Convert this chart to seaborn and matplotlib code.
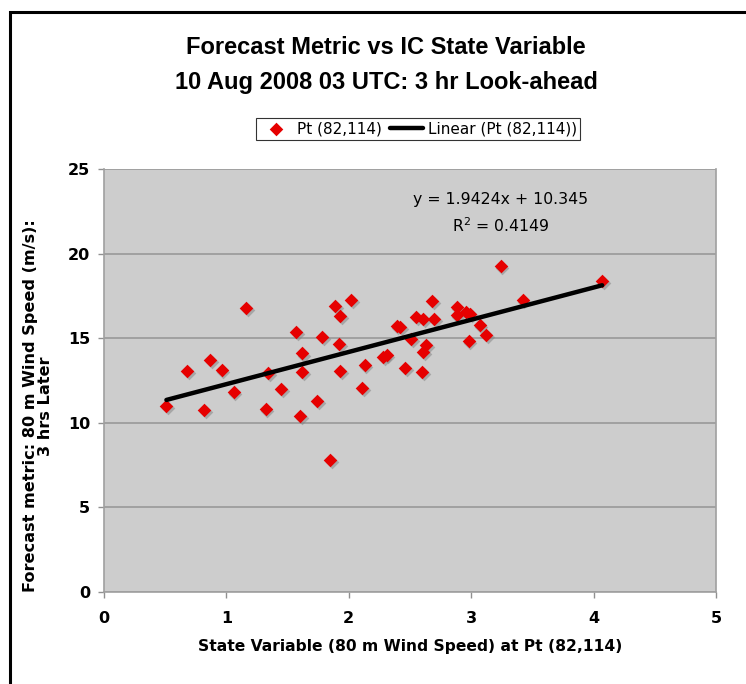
import seaborn as sns
import matplotlib.pyplot as plt
import matplotlib.transforms as mtransforms
from matplotlib.patches import Rectangle
import pandas as pd

# values
state_var = [0.51, 0.68, 0.82, 0.87, 0.96, 1.06, 1.16, 1.32, 1.34, 1.45,
             1.57, 1.62, 1.62, 1.60, 1.74, 1.78, 1.85, 1.89, 1.93, 1.92,
             1.93, 2.02, 2.11, 2.13, 2.28, 2.31, 2.39, 2.42, 2.46, 2.51,
             2.55, 2.61, 2.60, 2.61, 2.63, 2.68, 2.70, 2.88, 2.88, 2.96,
             2.99, 2.98, 3.07, 3.12, 3.24, 3.42, 4.07]
forecast = [11.0, 13.06, 10.76, 13.71, 13.12, 11.82, 16.8, 10.83, 12.96, 11.98,
            15.38, 14.1, 13.0, 10.4, 11.3, 15.09, 7.8, 16.9, 16.3, 14.66,
            13.08, 17.26, 12.04, 13.4, 13.87, 14.0, 15.74, 15.64, 13.22, 14.95,
            16.27, 16.12, 12.98, 14.2, 14.6, 17.22, 16.12, 16.86, 16.37, 16.57,
            16.43, 14.85, 15.8, 15.2, 19.26, 17.28, 18.4]
x_ticks = [0, 1, 2, 3, 4, 5]
y_ticks = [0, 5, 10, 15, 20, 25]

df = pd.DataFrame({"state": state_var, "forecast": forecast})

sns.set_style("white")
plt.rcParams['font.family'] = ['DejaVu Sans']
plt.rcParams['text.color'] = 'black'
plt.rcParams['axes.labelcolor'] = 'black'
plt.rcParams['xtick.color'] = 'black'
plt.rcParams['ytick.color'] = 'black'

fig = plt.figure(figsize=(7.46, 6.84), dpi=100)
ax = fig.add_axes([104 / 746, 1 - 592 / 684, 612 / 746, 423 / 684])
ax.set_facecolor("#cdcdcd")

# faint marker shadow like the spreadsheet original
shadow = mtransforms.offset_copy(ax.transData, fig=fig, x=1.2, y=-1.5, units="points")
sns.scatterplot(data=df, x="state", y="forecast", marker="D", s=48, color="#808080",
                alpha=0.5, linewidth=0, ax=ax, transform=shadow, zorder=2)
sns.scatterplot(data=df, x="state", y="forecast", marker="D", s=48, color="#e60000",
                linewidth=0, ax=ax, label="Pt (82,114)", zorder=3)
sns.regplot(data=df, x="state", y="forecast", scatter=False, ci=None, truncate=True,
            color="black", line_kws={"linewidth": 3.2, "zorder": 4},
            label="Linear (Pt (82,114))", ax=ax)

ax.set_xlim(0, 5)
ax.set_ylim(0, 25)
ax.set_xticks(x_ticks)
ax.set_yticks(y_ticks)
ax.set_xticklabels([str(v) for v in x_ticks], fontsize=11.5, fontweight="bold")
ax.set_yticklabels([str(v) for v in y_ticks], fontsize=11.5, fontweight="bold")
ax.tick_params(axis="both", direction="out", length=4, width=1, color="#909090",
               bottom=True, left=True, pad=6)
ax.tick_params(axis="x", pad=10)
ax.yaxis.grid(True, color="#949494", linewidth=1.1)
ax.xaxis.grid(False)
ax.set_axisbelow(True)
for side, sp in ax.spines.items():
    sp.set_color("#a0a0a0")
    sp.set_linewidth(1.2)
ax.spines["top"].set_visible(False)

ax.set_xlabel("State Variable (80 m Wind Speed) at Pt (82,114)", fontsize=11.2,
              fontweight="bold", labelpad=9)
ax.set_ylabel("Forecast metric: 80 m Wind Speed (m/s):\n3 hrs Later", fontsize=11.6,
              fontweight="bold", linespacing=1.0)
ax.yaxis.set_label_coords(-0.083, 0.44)

ax.text(3.24, 23.2, "y = 1.9424x + 10.345", ha="center", va="center", fontsize=11.3)
ax.text(3.24, 21.65, "R$^2$ = 0.4149", ha="center", va="center", fontsize=11.3)

fig.suptitle("Forecast Metric vs IC State Variable\n10 Aug 2008 03 UTC: 3 hr Look-ahead",
             x=386 / 746, y=1 - 36 / 684, va="top", fontsize=17, fontweight="bold",
             family=["Liberation Sans", "DejaVu Sans"], linespacing=1.65)

handles, labels = ax.get_legend_handles_labels()
leg = ax.legend(handles, labels, ncol=2, loc="center",
                bbox_to_anchor=(418 / 746, 1 - 129 / 684), bbox_transform=fig.transFigure,
                fontsize=11, frameon=True, fancybox=False, handlelength=2.2,
                handletextpad=0.3, columnspacing=0.5, borderpad=0.2)
leg.get_frame().set_edgecolor("black")
leg.get_frame().set_linewidth(0.8)

# outer chart border (left and top visible, rest runs off the image)
fig.patches.append(Rectangle((10 / 746, -0.05), 0.99, 1 - 12 / 684 + 0.05,
                             transform=fig.transFigure, fill=False,
                             edgecolor="black", linewidth=2.2))

fig.savefig("out.png", dpi=100)
